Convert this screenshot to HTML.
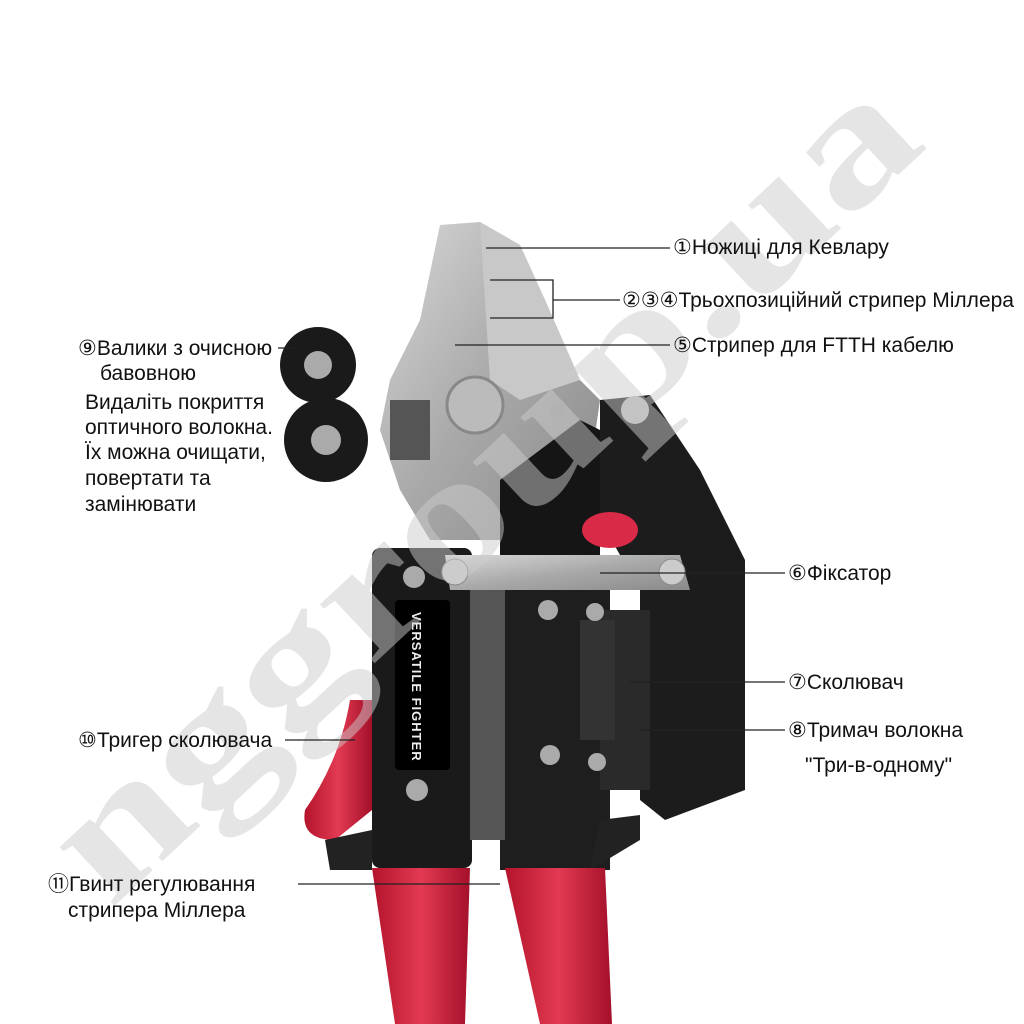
<!DOCTYPE html>
<html><head><meta charset="utf-8"><style>
body{margin:0;width:1024px;height:1024px;background:#fff;overflow:hidden}
svg{display:block}
text{font-family:"Liberation Sans",sans-serif;font-size:21px;fill:#111}
</style></head><body>
<svg width="1024" height="1024" viewBox="0 0 1024 1024">
<defs>
<linearGradient id="steel" x1="0" x2="1" y1="0" y2="1"><stop offset="0" stop-color="#d8d8d8"/><stop offset=".5" stop-color="#a9a9a9"/><stop offset="1" stop-color="#8a8a8a"/></linearGradient>
<linearGradient id="red" x1="0" x2="1"><stop offset="0" stop-color="#b3142c"/><stop offset=".5" stop-color="#e23a52"/><stop offset="1" stop-color="#a4102a"/></linearGradient>
</defs>
<polygon points="440,225 480,222 520,245 545,300 580,380 600,400 590,470 560,540 430,540 400,490 380,430 390,380 420,320" fill="url(#steel)"/>
<polygon points="480,222 520,245 545,300 580,380 520,400 490,380" fill="#c8c8c8"/>
<circle cx="475" cy="405" r="28" fill="#bbb" stroke="#888" stroke-width="3"/>
<rect x="390" y="400" width="40" height="60" fill="#555"/>
<circle cx="558" cy="410" r="8" fill="#999"/><circle cx="558" cy="445" r="8" fill="#999"/>
<circle cx="318" cy="365" r="38" fill="#1a1a1a"/><circle cx="318" cy="365" r="14" fill="#aaa"/>
<circle cx="326" cy="440" r="42" fill="#1a1a1a"/><circle cx="326" cy="440" r="15" fill="#aaa"/>
<polygon points="600,400 650,395 700,470 745,560 745,790 665,820 640,800 640,590 600,520" fill="#1c1c1c"/>
<circle cx="635" cy="410" r="14" fill="#bbb"/>
<polygon points="500,480 580,420 600,430 600,560 500,560" fill="#151515"/>
<ellipse cx="610" cy="530" rx="28" ry="18" fill="#d92b48"/>
<rect x="372" y="548" width="100" height="320" rx="8" fill="#1a1a1a"/>
<rect x="500" y="560" width="110" height="310" fill="#1e1e1e"/>
<rect x="470" y="590" width="35" height="250" fill="#555"/>
<rect x="600" y="610" width="50" height="180" fill="#2a2a2a"/>
<rect x="580" y="620" width="35" height="120" fill="#333"/>
<rect x="395" y="600" width="55" height="170" rx="4" fill="#000"/>
<text transform="translate(412,612) rotate(90)" style="font-size:13px;fill:#eee;font-weight:bold;letter-spacing:1px">VERSATILE FIGHTER</text>
<circle cx="414" cy="577" r="11" fill="#aaa"/><circle cx="417" cy="790" r="11" fill="#aaa"/>
<circle cx="548" cy="610" r="10" fill="#aaa"/><circle cx="550" cy="755" r="10" fill="#aaa"/>
<circle cx="595" cy="612" r="9" fill="#aaa"/><circle cx="597" cy="762" r="9" fill="#aaa"/>
<polygon points="445,555 680,555 690,590 450,590" fill="url(#steel)"/>
<circle cx="455" cy="572" r="13" fill="#ccc" stroke="#888"/><circle cx="672" cy="572" r="13" fill="#ccc" stroke="#888"/>
<polygon points="600,820 640,815 640,840 590,870" fill="#222"/>
<path d="M350,700 L372,700 L372,810 L335,840 Q300,840 305,810 Q340,760 350,700Z" fill="url(#red)"/>
<polygon points="325,840 372,830 372,870 330,870" fill="#222"/>
<polygon points="372,868 470,868 465,1024 395,1024" fill="url(#red)"/>
<polygon points="505,868 605,868 612,1024 540,1024" fill="url(#red)"/>
<text transform="translate(110,910) rotate(-43)" textLength="1120" lengthAdjust="spacingAndGlyphs" style="font-size:175px;font-family:'Liberation Serif',serif;font-weight:bold;fill:#ccc;fill-opacity:.5">nggroup.ua</text>
<g stroke="#222" stroke-width="1.3" fill="none">
<line x1="486" y1="248" x2="670" y2="248"/>
<polyline points="490,280 553,280 553,318 490,318"/><line x1="553" y1="300" x2="620" y2="300"/>
<line x1="455" y1="345" x2="670" y2="345"/>
<line x1="278" y1="348" x2="295" y2="348"/>
<line x1="600" y1="573" x2="785" y2="573"/>
<line x1="630" y1="682" x2="785" y2="682"/>
<line x1="640" y1="730" x2="785" y2="730"/>
<line x1="285" y1="740" x2="355" y2="740"/>
<line x1="298" y1="884" x2="500" y2="884"/>
</g>
<text x="673" y="254">①Ножиці для Кевлару</text>
<text x="622" y="307">②③④Трьохпозиційний стрипер Міллера</text>
<text x="673" y="352">⑤Стрипер для FTTH кабелю</text>
<text x="78" y="355">⑨Валики з очисною</text>
<text x="100" y="380">бавовною</text>
<text x="85" y="409">Видаліть покриття</text>
<text x="85" y="434">оптичного волокна.</text>
<text x="85" y="459">Їх можна очищати,</text>
<text x="85" y="485">повертати та</text>
<text x="85" y="511">замінювати</text>
<text x="788" y="580">⑥Фіксатор</text>
<text x="788" y="689">⑦Сколювач</text>
<text x="788" y="737">⑧Тримач волокна</text>
<text x="805" y="772">"Три-в-одному"</text>
<text x="78" y="747">⑩Тригер сколювача</text>
<text x="48" y="891">⑪Гвинт регулювання</text>
<text x="68" y="917">стрипера Міллера</text>
</svg>
</body></html>
